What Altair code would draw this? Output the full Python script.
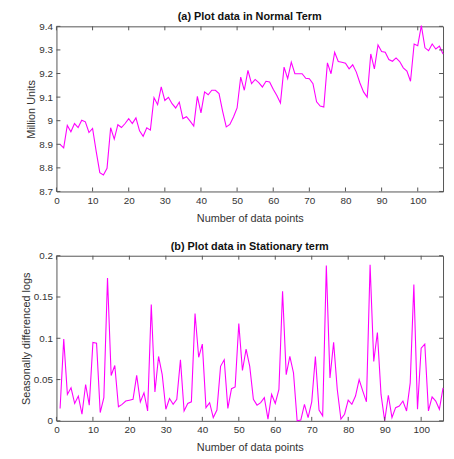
import altair as alt
import pandas as pd

# ---------------- data ----------------
normal_vals = [
    8.90, 8.885, 8.98, 8.953, 8.988, 8.971, 9.002, 8.995, 8.95, 8.967,
    8.87, 8.78, 8.77, 8.798, 8.97, 8.922, 8.983, 8.971, 8.988, 9.009,
    8.988, 9.012, 8.957, 8.934, 8.97, 8.96, 9.098, 9.068, 9.143, 9.086,
    9.099, 9.072, 9.054, 9.079, 9.009, 9.017, 8.998, 8.977, 9.103, 9.033,
    9.122, 9.11, 9.129, 9.129, 9.115, 9.04, 8.974, 8.984, 9.016, 9.054,
    9.185, 9.129, 9.213, 9.157, 9.175, 9.161, 9.143, 9.167, 9.164, 9.133,
    9.107, 9.075, 9.227, 9.178, 9.248, 9.199, 9.199, 9.199, 9.18, 9.178,
    9.157, 9.08, 9.062, 9.058, 9.245, 9.199, 9.29, 9.251, 9.248, 9.244,
    9.22, 9.237, 9.206, 9.16, 9.122, 9.10, 9.283, 9.22, 9.321, 9.293,
    9.29, 9.259, 9.252, 9.266, 9.251, 9.224, 9.21, 9.167, 9.325, 9.318,
    9.403, 9.309, 9.297, 9.325, 9.304, 9.316, 9.283,
]
stat_vals = [
    0.015, 0.099, 0.032, 0.040, 0.021, 0.030, 0.008, 0.044, 0.019, 0.095,
    0.094, 0.010, 0.028, 0.173, 0.055, 0.067, 0.017, 0.020, 0.024, 0.025,
    0.026, 0.055, 0.023, 0.034, 0.012, 0.141, 0.035, 0.078, 0.056, 0.014,
    0.027, 0.020, 0.026, 0.074, 0.012, 0.021, 0.023, 0.130, 0.077, 0.093,
    0.016, 0.022, 0.004, 0.013, 0.066, 0.074, 0.015, 0.039, 0.041, 0.118,
    0.061, 0.087, 0.066, 0.026, 0.019, 0.022, 0.028, 0.002, 0.032, 0.021,
    0.038, 0.157, 0.056, 0.078, 0.058, 0.000, 0.001, 0.020, 0.004, 0.023,
    0.078, 0.013, 0.006, 0.188, 0.052, 0.095, 0.038, 0.002, 0.008, 0.025,
    0.020, 0.030, 0.050, 0.036, 0.023, 0.189, 0.072, 0.107, 0.032, 0.000,
    0.031, 0.004, 0.016, 0.018, 0.024, 0.012, 0.046, 0.165, 0.014, 0.088,
    0.093, 0.012, 0.029, 0.024, 0.014, 0.040,
]
x_ticks = [0, 10, 20, 30, 40, 50, 60, 70, 80, 90, 100]
y_ticks_a = [8.7, 8.8, 8.9, 9.0, 9.1, 9.2, 9.3, 9.4]
y_ticks_b = [0, 0.05, 0.1, 0.15, 0.2]

title_a = "(a) Plot data in Normal Term"
title_b = "(b) Plot data in Stationary term"
ylab_a = "Million Units"
ylab_b = "Seasonally differenced logs"
xlab = "Number of data points"

W, H = 391, 167
TK = 4
AX = "#555555"
TXT = "#333333"
LINE = "#FF00FF"


def panel(vals, xmax, yticks, ydom, title, ylab):
    df = pd.DataFrame({"x": list(range(1, len(vals) + 1)), "y": vals})
    xs = alt.Scale(domain=[0, xmax], nice=False, zero=False)
    ys = alt.Scale(domain=ydom, nice=False, zero=False)
    xt = pd.DataFrame({"x": x_ticks})
    yt = pd.DataFrame({"y": yticks})
    ax_x = alt.Axis(values=x_ticks, title=xlab, ticks=False, domain=False,
                    grid=False, labelPadding=4, format="~f",
                    labelOverlap=False, labelFlush=False, titlePadding=7)
    ax_y = alt.Axis(values=yticks, title=ylab, ticks=False, domain=False,
                    grid=False, labelPadding=4, format="~f",
                    labelOverlap=False, labelFlush=False, titlePadding=2)
    X = alt.X("x:Q", scale=xs, axis=ax_x)
    Y = alt.Y("y:Q", scale=ys, axis=ax_y)

    line = alt.Chart(df).mark_line(color=LINE, strokeWidth=1.1).encode(x=X, y=Y)
    tb = alt.Chart(xt).mark_rule(color=AX, strokeWidth=1).encode(
        x=X, y=alt.value(H), y2=alt.value(H - TK))
    tt = alt.Chart(xt).mark_rule(color=AX, strokeWidth=1).encode(
        x=X, y=alt.value(0), y2=alt.value(TK))
    tl = alt.Chart(yt).mark_rule(color=AX, strokeWidth=1).encode(
        y=Y, x=alt.value(0), x2=alt.value(TK))
    tr = alt.Chart(yt).mark_rule(color=AX, strokeWidth=1).encode(
        y=Y, x=alt.value(W), x2=alt.value(W - TK))
    return alt.layer(line, tb, tt, tl, tr).properties(
        width=W, height=H,
        title=alt.TitleParams(title, fontSize=11, fontWeight="bold", color="#111111",
                              anchor="middle", offset=-1),
    )


top = panel(normal_vals, 107, y_ticks_a, [8.7, 9.4], title_a, ylab_a)
bot = panel(stat_vals, 106, y_ticks_b, [0, 0.2], title_b, ylab_b)

chart = alt.vconcat(top, bot, spacing=16).properties(
    padding={"left": 12, "top": 0, "right": 0, "bottom": 0}
).configure_view(
    stroke=AX, strokeWidth=1
).configure_axis(
    labelFont="Liberation Sans", labelFontSize=10, labelColor=TXT,
    titleFont="Liberation Sans", titleFontSize=11, titleColor=TXT,
    titleFontWeight="normal",
).configure_title(font="Liberation Sans")

chart.save("out.html", embed_options={"renderer": "svg", "actions": False})
